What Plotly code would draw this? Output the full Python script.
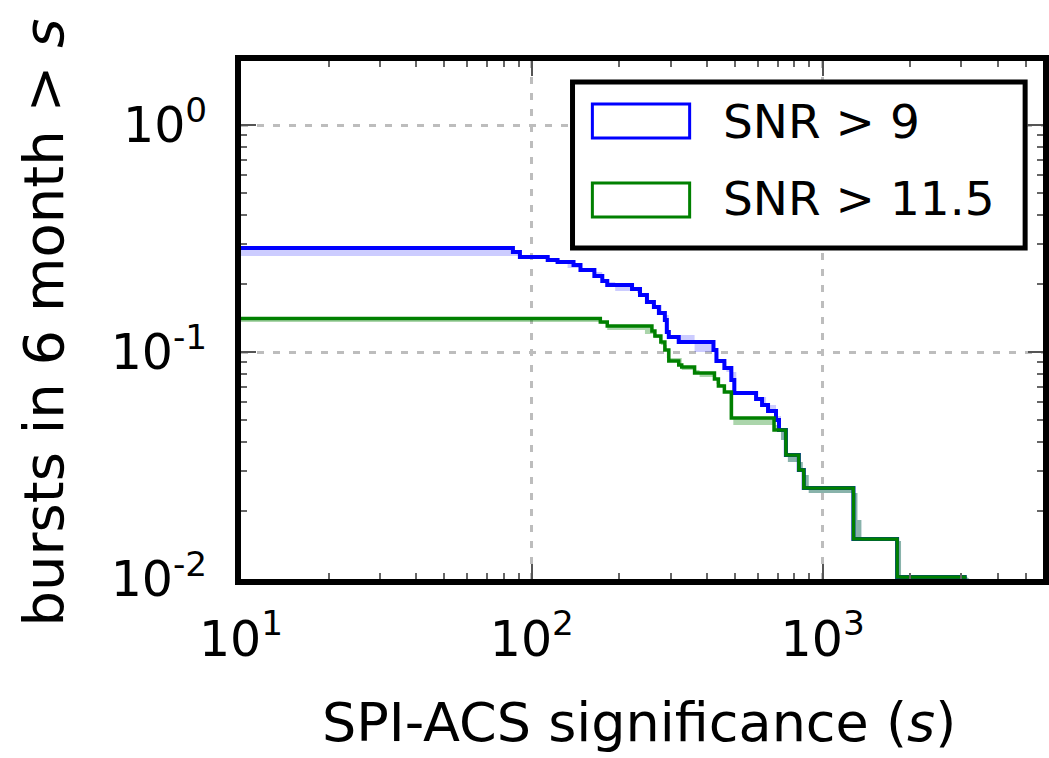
import plotly.graph_objects as go

# Cumulative rate of bursts above a given SPI-ACS significance (step curves)
# SNR > 9
snr9_sig = [10, 86.1, 91.0, 113.4, 122.6, 139.1, 147.0, 164.1, 174.7, 181.7,
            221.1, 235.5, 248.8, 262.9, 273.5, 286.7, 291.2, 295.8, 320.0, 421.3,
            431.3, 459.3, 485.3, 496.8, 590.4, 619.0, 649.0, 691.2, 707.7, 747.5,
            828.1, 861.3, 1276, 1803, 3126]
snr9_rate = [0.287, 0.2757, 0.2621, 0.2543, 0.2492, 0.2418, 0.2297, 0.2162, 0.2055, 0.1974,
             0.1895, 0.1783, 0.1661, 0.1579, 0.1485, 0.1384, 0.1225, 0.1164, 0.1107, 0.1020,
             0.0913, 0.0850, 0.0753, 0.0660, 0.0621, 0.0584, 0.0550, 0.0502, 0.0453, 0.0352,
             0.0302, 0.0252, 0.0150, 0.0102, 0.0102]
# lower edge of the SNR > 9 band
snr9_band_sig = [10, 111.6, 122.6, 132.7, 155.3, 174.7, 193.5, 230.0, 244.9, 258.8,
                 280.0, 295.8, 362.8, 438.1, 466.6, 504.8, 581.3, 639.0, 691.2, 719.0,
                 759.3, 854.5, 895.6, 1317, 1359, 1860, 3200]
snr9_band_rate = [0.2648, 0.2595, 0.2492, 0.2344, 0.2251, 0.2034, 0.1857, 0.1819, 0.1695, 0.1611,
                  0.1455, 0.1188, 0.1000, 0.0903, 0.0816, 0.0660, 0.0634, 0.0584, 0.0522, 0.0410,
                  0.0328, 0.0287, 0.0239, 0.0182, 0.0147, 0.0100, 0.0100]

# SNR > 11.5
snr115_sig = [10, 172.0, 181.7, 258.8, 265.0, 277.8, 286.7, 295.8, 320.0, 327.7,
              362.8, 424.6, 438.1, 459.3, 485.3, 680.5, 747.5, 828.1, 861.3, 1276,
              1803, 3126]
snr115_rate = [0.1405, 0.1356, 0.1302, 0.1238, 0.1176, 0.1107, 0.1020, 0.0913, 0.0877, 0.0859,
               0.0808, 0.0760, 0.0708, 0.0666, 0.0512, 0.0453, 0.0352, 0.0302, 0.0252, 0.0150,
               0.0102, 0.0102]
snr115_band_sig = [10, 172.0, 181.7, 244.9, 262.9, 277.8, 291.2, 327.7, 377.4, 431.3,
                   459.3, 493.0, 702.2, 719.0, 759.3, 854.5, 895.6, 1317, 1359, 1860, 3200]
snr115_band_rate = [0.1356, 0.1328, 0.1250, 0.1201, 0.1153, 0.1074, 0.0941, 0.0833, 0.0776, 0.0723,
                    0.0666, 0.0477, 0.0444, 0.0410, 0.0328, 0.0287, 0.0239, 0.0182, 0.0147, 0.0100, 0.0100]

legend_labels = ["SNR &gt; 9", "SNR &gt; 11.5"]

x_major = [10, 100, 1000]
x_major_text = ["10<sup>1</sup>", "10<sup>2</sup>", "10<sup>3</sup>"]
x_minor = [m * d for d in (10, 100, 1000) for m in range(2, 10)]
y_major = [0.01, 0.1, 1]
y_major_text = ["10<sup>-2</sup>", "10<sup>-1</sup>", "10<sup>0</sup>"]
y_minor = [m * d for d in (0.01, 0.1) for m in range(2, 10)]

BLUE = "#0000ff"
GREEN = "#008000"
FONT = "DejaVu Sans"

W, H = 1049, 758
ML, MT, MB = 241, 61, 179
PW, PH = W - ML, H - MT - MB


def px_x(px):
    return (px - ML) / PW


def px_y(py):
    return (H - MB - py) / PH


fig = go.Figure()

fig.add_trace(go.Scatter(x=snr9_band_sig, y=snr9_band_rate, mode="lines",
                         line=dict(width=0, shape="hv", color=BLUE),
                         hoverinfo="skip", showlegend=False))
fig.add_trace(go.Scatter(x=snr9_sig, y=snr9_rate, mode="lines",
                         line=dict(width=4, shape="hv", color=BLUE),
                         fill="tonexty", fillcolor="rgba(0,0,255,0.2)",
                         showlegend=False))
fig.add_trace(go.Scatter(x=snr115_band_sig, y=snr115_band_rate, mode="lines",
                         line=dict(width=0, shape="hv", color=GREEN),
                         hoverinfo="skip", showlegend=False))
fig.add_trace(go.Scatter(x=snr115_sig, y=snr115_rate, mode="lines",
                         line=dict(width=3.5, shape="hv", color=GREEN),
                         fill="tonexty", fillcolor="rgba(0,128,0,0.33)",
                         showlegend=False))

axis_common = dict(
    type="log",
    showline=True, linecolor="black", linewidth=6,
    mirror="allticks",
    ticks="inside", ticklen=15, tickwidth=2, tickcolor="#555",
    tickmode="array",
    showgrid=True, gridcolor="#bdbdbd", gridwidth=3, griddash="7px,9px",
    zeroline=False,
    tickfont=dict(family=FONT, size=49, color="black"),
)

fig.update_xaxes(**axis_common, range=[1, 1 + PW / 293.0],
                 tickvals=x_major, ticktext=x_major_text,
                 ticklabelstandoff=12,
                 minor=dict(tickmode="array", tickvals=x_minor, ticks="inside",
                            ticklen=6, tickwidth=2, tickcolor="#666", showgrid=False))
fig.update_yaxes(**axis_common, range=[-2, -2 + PH / 227.0],
                 tickvals=y_major, ticktext=y_major_text,
                 ticklabelstandoff=18,
                 minor=dict(tickmode="array", tickvals=y_minor, ticks="inside",
                            ticklen=6, tickwidth=2, tickcolor="#666", showgrid=False))

shapes = [
    dict(type="rect", xref="paper", yref="paper",
         x0=px_x(575), x1=px_x(1031), y0=px_y(248), y1=px_y(82),
         line=dict(color="black", width=5), fillcolor="white", layer="above"),
    dict(type="rect", xref="paper", yref="paper",
         x0=px_x(595), x1=px_x(693), y0=px_y(138), y1=px_y(104),
         line=dict(color=BLUE, width=3), fillcolor="white", layer="above"),
    dict(type="rect", xref="paper", yref="paper",
         x0=px_x(595), x1=px_x(693), y0=px_y(217), y1=px_y(183),
         line=dict(color=GREEN, width=3), fillcolor="white", layer="above"),
]

annotations = [
    dict(text=legend_labels[0], xref="paper", yref="paper", x=px_x(725), y=px_y(121),
         xanchor="left", yanchor="middle", showarrow=False,
         font=dict(family=FONT, size=47, color="black")),
    dict(text=legend_labels[1], xref="paper", yref="paper", x=px_x(725), y=px_y(198),
         xanchor="left", yanchor="middle", showarrow=False,
         font=dict(family=FONT, size=47, color="black")),
    dict(text="SPI-ACS significance (<i>s</i>)", xref="paper", yref="paper",
         x=px_x(642), y=px_y(722), xanchor="center", yanchor="middle", showarrow=False,
         font=dict(family=FONT, size=54, color="black")),
    dict(text="bursts in 6 month &gt; <i>s</i>", xref="paper", yref="paper",
         x=px_x(42), y=px_y(322), xanchor="center", yanchor="middle", showarrow=False,
         textangle=-90, font=dict(family=FONT, size=56, color="black")),
]

fig.update_layout(
    width=W, height=H,
    margin=dict(l=ML, r=0, t=MT, b=MB, pad=0),
    paper_bgcolor="white", plot_bgcolor="white",
    showlegend=False,
    shapes=shapes, annotations=annotations,
    font=dict(family=FONT, color="black"),
)

fig.write_html("out.html")
